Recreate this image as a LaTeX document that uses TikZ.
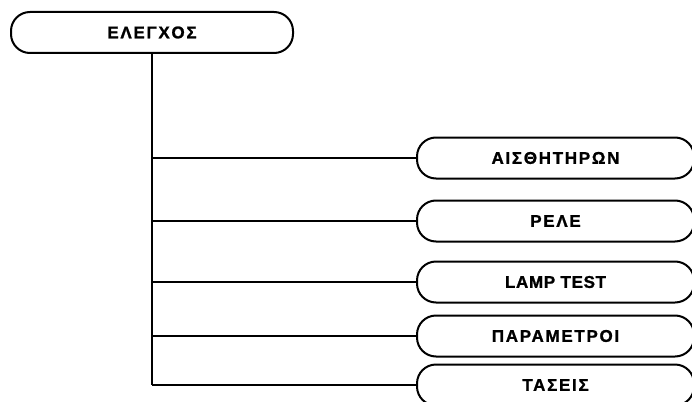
\documentclass[tikz,border=0pt]{standalone}
\usepackage{fontspec}
\setmainfont{Liberation Sans}
\newfontfamily\menufont[LetterSpace=10,FakeBold=1.2]{Liberation Sans Bold}
\newfontfamily\latinfont[LetterSpace=4,FakeBold=1.2]{Liberation Sans Bold}
\usepackage{tikz}

\begin{document}
\begin{tikzpicture}[x=1pt,y=1pt,
		menu/.style={draw, line width=2pt, rounded corners=19pt, minimum height=41pt, inner sep=0pt, font=\menufont\fontsize{17}{20}\selectfont},
		link/.style={line width=2pt}]
		\useasboundingbox (0,0) rectangle (692,-401);

		% Top box
		\node[menu, minimum width=282pt] (elegxos) at (152,-32.5) {ΕΛΕΓΧΟΣ};

		% Sub boxes
		\node[menu, minimum width=277pt] (aisth) at (555.5,-158) {ΑΙΣΘΗΤΗΡΩΝ};
		\node[menu, minimum width=277pt] (rele) at (555.5,-221) {ΡΕΛΕ};
		\node[menu, minimum width=277pt, font=\latinfont\fontsize{17}{20}\selectfont] (lamp) at (555.5,-282) {LAMP TEST};
		\node[menu, minimum width=277pt] (param) at (555.5,-336) {ΠΑΡΑΜΕΤΡΟΙ};
		\node[menu, minimum width=277pt] (taseis) at (555.5,-385) {ΤΑΣΕΙΣ};

		% Trunk line
		\draw[link] (elegxos.south) -- (elegxos.south |- taseis.west);

		% Branches
		\draw[link] (elegxos.south |- aisth.west) -- (aisth.west);
		\draw[link] (elegxos.south |- rele.west) -- (rele.west);
		\draw[link] (elegxos.south |- lamp.west) -- (lamp.west);
		\draw[link] (elegxos.south |- param.west) -- (param.west);
		\draw[link] (elegxos.south |- taseis.west) -- (taseis.west);
	\end{tikzpicture}
\end{document}
